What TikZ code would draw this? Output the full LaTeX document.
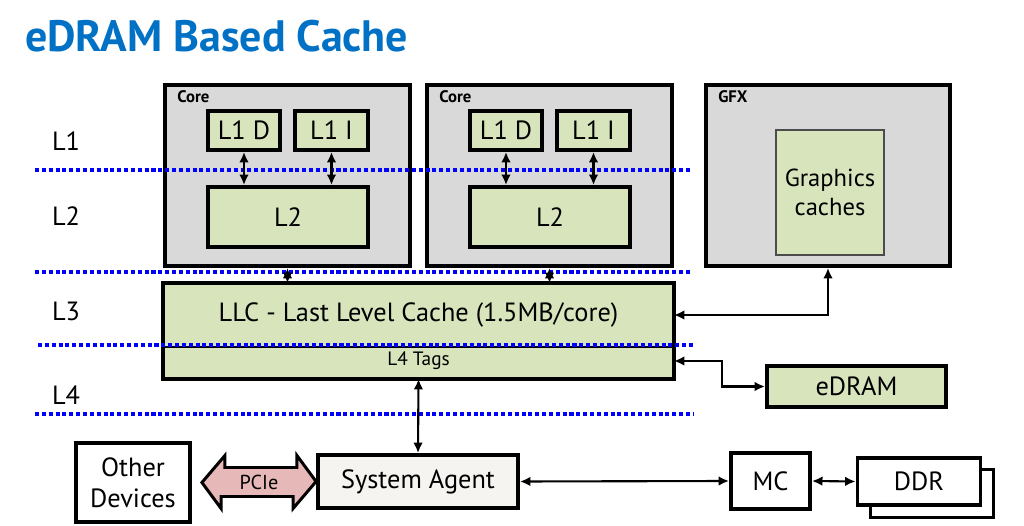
\documentclass[tikz,border=0pt]{standalone}
\usepackage{fontspec}
\setmainfont{PT Sans}
\usetikzlibrary{arrows.meta,calc}
\definecolor{titleblue}{RGB}{0,113,197}
\definecolor{coregray}{RGB}{217,217,217}
\definecolor{cachegreen}{RGB}{216,228,188}
\definecolor{agentwhite}{RGB}{245,244,240}
\definecolor{pciepink}{RGB}{230,184,183}
\newcommand\bigtxt{\fontsize{15}{17.5}\selectfont}
\tikzset{
  unit/.style={draw, line width=2.2pt, fill=coregray, inner sep=0pt},
  cache/.style={draw, line width=2.2pt, fill=cachegreen, inner sep=0pt, font=\bigtxt},
  plain/.style={draw, line width=2.2pt, fill=white, inner sep=0pt, font=\bigtxt, align=center},
  link/.style={{Latex[length=6pt,width=5.5pt]}-{Latex[length=6pt,width=5.5pt]}, line width=1.2pt},
  levelline/.style={blue, line width=2.3pt, dash pattern=on 2.3pt off 1.6pt},
  tag/.style={font=\fontsize{9.5}{10}\selectfont\bfseries, anchor=west},
  level/.style={font=\bigtxt},
}
\begin{document}
\begin{tikzpicture}[x=0.02cm, y=-0.02cm]
  \useasboundingbox[fill=white] (0,0) rectangle (1024,526);
  \node[anchor=base west, text=titleblue, font=\fontsize{25}{30}\selectfont\bfseries] (title) at (19,52) {eDRAM Based Cache};

  % cores and graphics
  \node[unit, minimum width=4.9cm, minimum height=3.62cm] (corea) at (287.5,175.5) {};
  \node[unit, minimum width=4.9cm, minimum height=3.62cm] (coreb) at (549.5,175.5) {};
  \node[unit, minimum width=4.88cm, minimum height=3.62cm] (gfx) at (828,175.5) {};
  \node[tag] at ($(corea.north west)+(8,14)$) {Core};
  \node[tag] at ($(coreb.north west)+(8,14)$) {Core};
  \node[tag] at ($(gfx.north west)+(8,14)$) {GFX};

  \node[cache, minimum width=1.44cm, minimum height=0.78cm] (l1da) at (244,130.5) {L1 D};
  \node[cache, minimum width=1.46cm, minimum height=0.78cm] (l1ia) at (331.5,130.5) {L1 I};
  \node[cache, minimum width=3.2cm, minimum height=1.2cm] (l2a) at (288,217) {L2};
  \node[cache, minimum width=1.44cm, minimum height=0.78cm] (l1db) at (506,130.5) {L1 D};
  \node[cache, minimum width=1.46cm, minimum height=0.78cm] (l1ib) at (593.5,130.5) {L1 I};
  \node[cache, minimum width=3.2cm, minimum height=1.2cm] (l2b) at (550,217) {L2};
  \node[cache, draw=black!70, line width=0.7pt, align=center, font=\fontsize{14}{16.5}\selectfont, minimum width=2.16cm, minimum height=2.5cm] (gc) at (830,192.5) {Graphics\\caches};

  % LLC, tags and eDRAM
  \node[cache, draw=none, minimum width=10.14cm, minimum height=1.2cm] (llc) at (418.5,315) {LLC - Last Level Cache (1.5MB/core)};
  \node[cache, draw=none, font=\fontsize{11}{12}\selectfont, minimum width=10.14cm, minimum height=0.64cm] (tags) at (418.5,361) {L4 Tags};
  \draw[line width=0.7pt] (llc.south west) -- (llc.south east);
  \draw[line width=2.2pt] (llc.north west) rectangle (tags.south east);
  \node[cache, minimum width=3.58cm, minimum height=0.82cm] (edram) at (856.5,386.5) {eDRAM};

  % bottom row
  \node[plain, minimum width=2.28cm, minimum height=1.58cm] (other) at (133,482.5) {Other\\Devices};
  \node[plain, fill=agentwhite, minimum width=4cm, minimum height=1.06cm] (sa) at (418,481.5) {System Agent};
  \node[plain, minimum width=1.58cm, minimum height=1.12cm] (mc) at (770.5,481) {MC};
  \node[plain, minimum width=2.46cm, minimum height=0.96cm] (ddrback) at (932,493.5) {};
  \node[plain, minimum width=2.46cm, minimum height=0.94cm] (ddr) at ($(ddrback)+(-13,-12)$) {DDR};

  % PCIe
  \draw[line width=1.7pt, fill=pciepink] ($(other.east)+(10,0)$) -- ++(23,-27) -- ++(0,12) -- ++(72,0) -- ++(0,-12)
    -- (sa.west) -- ++(-23,27) -- ++(0,-12) -- ++(-72,0) -- ++(0,12) -- cycle;
  \node[font=\fontsize{11.5}{12}\selectfont] (pcie) at ($($(other.east)+(10,0)$)!0.5!(sa.west)$) {PCIe};

  % levels
  \draw[levelline] (35,170) -- (690,170);
  \draw[levelline] (35,272) -- (690,272);
  \draw[levelline] (38,345) -- (693,345);
  \draw[levelline] (35,414) -- (693,414);
  \node[level] (lvla) at (66,141) {L1};
  \node[level] (lvlb) at (66,216) {L2};
  \node[level] (lvlc) at (66,311) {L3};
  \node[level] (lvld) at (66,395) {L4};

  % connectors
  \draw[link] (l1da.south) -- (l1da.south |- l2a.north);
  \draw[link] (l1ia.south) -- (l1ia.south |- l2a.north);
  \draw[link] (l1db.south) -- (l1db.south |- l2b.north);
  \draw[link] (l1ib.south) -- (l1ib.south |- l2b.north);
  \draw[link] (corea.south) -- (corea.south |- llc.north);
  \draw[link] (coreb.south) -- (coreb.south |- llc.north);
  \draw[link] (gfx.south) |- (llc.east);
  \draw[link] (tags.east) -- ++(48,0) |- (edram.west);
  \draw[link] (tags.south) -- (sa.north);
  \draw[link] (sa.east) -- (mc.west);
  \draw[link] (mc.east) -- (ddr.west);
\end{tikzpicture}
\end{document}
